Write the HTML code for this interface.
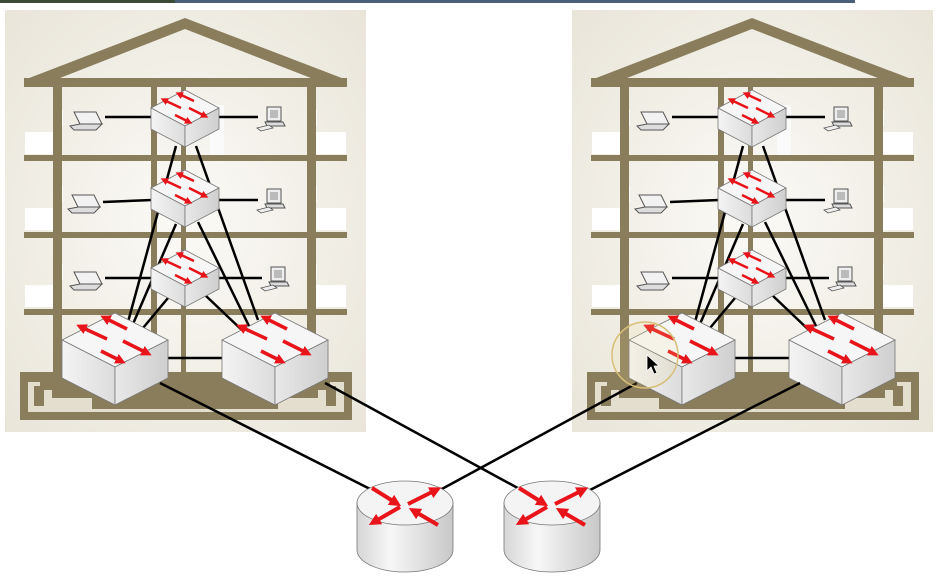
<!DOCTYPE html>
<html><head><meta charset="utf-8"><style>
html,body{margin:0;padding:0;background:#fff;}
svg{display:block;}
</style></head><body>
<svg width="939" height="577" viewBox="0 0 939 577" xmlns="http://www.w3.org/2000/svg" font-family="Liberation Sans, sans-serif">
<defs>
<linearGradient id="lf" x1="0" y1="0" x2="1" y2="0"><stop offset="0" stop-color="#f4f4f4"/><stop offset="1" stop-color="#dcdcdc"/></linearGradient>
<linearGradient id="rf" x1="0" y1="0" x2="1" y2="0"><stop offset="0" stop-color="#e8e8e8"/><stop offset="1" stop-color="#cfcfcf"/></linearGradient>
<linearGradient id="cyl" x1="0" y1="0" x2="1" y2="0"><stop offset="0" stop-color="#d6d6d6"/><stop offset="0.35" stop-color="#f7f7f7"/><stop offset="1" stop-color="#c8c8c8"/></linearGradient>
<radialGradient id="pan" cx="0.5" cy="0.5" r="0.7"><stop offset="0" stop-color="#fbfaf6"/><stop offset="1" stop-color="#e9e5d9"/></radialGradient>
<marker id="ah" viewBox="0 0 10 10" refX="5" refY="5" markerWidth="3" markerHeight="3" orient="auto"><path d="M0,0 L10,5 L0,10 z" fill="#e8141a"/></marker>

<g id="bigsw">
 <path d="M0,0 L53,27 L0,54 L-53,27 z" fill="#f6f6f6" stroke="#777" stroke-width="0.8"/>
 <path d="M-53,27 L0,54 L0,92 L-53,65 z" fill="url(#lf)" stroke="#777" stroke-width="0.8"/>
 <path d="M0,54 L53,27 L53,65 L0,92 z" fill="url(#rf)" stroke="#777" stroke-width="0.8"/>
 <g stroke="#e8141a" stroke-width="3.5" fill="none" marker-end="url(#ah)">
  <path d="M-8,26 L-34,14"/>
  <path d="M12,16 L-10,5"/>
  <path d="M-14,38 L6,48"/>
  <path d="M8,28 L32,40"/>
 </g>
</g>
<g id="smsw">
 <path d="M0,0 L34,18 L0,36 L-34,18 z" fill="#f6f6f6" stroke="#777" stroke-width="0.8"/>
 <path d="M-34,18 L0,36 L0,57 L-34,39 z" fill="url(#lf)" stroke="#777" stroke-width="0.8"/>
 <path d="M0,36 L34,18 L34,39 L0,57 z" fill="url(#rf)" stroke="#777" stroke-width="0.8"/>
 <g stroke="#e8141a" stroke-width="2.5" fill="none" marker-end="url(#ah)">
  <path d="M-4,18 L-21,10"/>
  <path d="M9,11 L-6,4"/>
  <path d="M-10,25 L4,32"/>
  <path d="M4,18 L20,26"/>
 </g>
</g>
<g id="laptop">
 <path d="M-14,-8 L8,-8 L14,4 L-8,4 z" fill="#f2f2f2" stroke="#555" stroke-width="1"/>
 <path d="M-18,6 L-8,4 L14,4 L8,10 L-14,10 z" fill="#ddd" stroke="#555" stroke-width="1"/>
</g>
<g id="pc">
 <rect x="-6" y="-13" width="14" height="14" fill="#eee" stroke="#555" stroke-width="1"/>
 <rect x="-3" y="-10" width="8" height="8" fill="#bbb"/>
 <path d="M-8,2 L10,2 L12,6 L-6,6 z" fill="#ddd" stroke="#555" stroke-width="1"/>
 <path d="M-16,8 L-4,5 L0,8 L-12,11 z" fill="#eee" stroke="#555" stroke-width="0.8"/>
</g>

<g id="bld">
 <rect x="5" y="10" width="361" height="422" fill="url(#pan)"/>
 <g fill="#ffffff">
  <rect x="25" y="132" width="30" height="22"/><rect x="316" y="132" width="30" height="22"/>
  <rect x="25" y="208" width="30" height="22"/><rect x="316" y="208" width="30" height="22"/>
  <rect x="25" y="285" width="30" height="22"/><rect x="316" y="285" width="30" height="22"/>
  <rect x="53" y="110" width="10" height="16"/><rect x="307" y="110" width="10" height="16"/>
  <rect x="53" y="186" width="10" height="16"/><rect x="307" y="186" width="10" height="16"/>
  <rect x="53" y="264" width="10" height="16"/><rect x="307" y="264" width="10" height="16"/>
  <rect x="210" y="105" width="14" height="50" fill="#fafafa"/>
 </g>
 <g fill="#8a7d5c">
  <path d="M24,80 L185,18 L347,80 L347,87 L334,87 L185,29 L37,87 L24,87 z"/>
  <rect x="24" y="78" width="323" height="9"/>
  <rect x="53" y="80" width="9" height="300"/>
  <rect x="307" y="80" width="9" height="300"/>
  <rect x="151" y="80" width="6" height="300"/>
  <rect x="181" y="80" width="5" height="300"/>
  <rect x="24" y="155" width="323" height="6"/>
  <rect x="24" y="232" width="323" height="6"/>
  <rect x="24" y="309" width="323" height="6"/>
  <path d="M20,372 L352,372 L352,420 L20,420 z"/>
 </g>
 <path d="M28,382 L40,382 L40,390 L52,390 L52,398 L92,398 L92,409 L278,409 L278,398 L318,398 L318,390 L330,390 L330,382 L344,382 L344,412 L28,412 z" fill="#e4dece"/>
 <rect x="34" y="386" width="10" height="20" fill="#8a7d5c"/>
 <rect x="326" y="386" width="10" height="20" fill="#8a7d5c"/>
 <rect x="182" y="372" width="5" height="30" fill="#8a7d5c"/>
 <g stroke="#000" stroke-width="2.5">
  <line x1="105" y1="117" x2="152" y2="117"/>
  <line x1="103" y1="202" x2="152" y2="200"/>
  <line x1="105" y1="278" x2="152" y2="278"/>
  <line x1="218" y1="117" x2="258" y2="117"/>
  <line x1="218" y1="200" x2="258" y2="200"/>
  <line x1="218" y1="278" x2="262" y2="278"/>
  <line x1="176" y1="146" x2="128" y2="322"/>
  <line x1="196" y1="146" x2="258" y2="320"/>
  <line x1="176" y1="224" x2="133" y2="324"/>
  <line x1="198" y1="222" x2="250" y2="328"/>
  <line x1="168" y1="298" x2="143" y2="328"/>
  <line x1="205" y1="295" x2="245" y2="333"/>
  <line x1="168" y1="358" x2="222" y2="358"/>
 </g>
 <use href="#laptop" x="88" y="120"/>
 <use href="#laptop" x="86" y="203"/>
 <use href="#laptop" x="88" y="280"/>
 <use href="#pc" x="273" y="120"/>
 <use href="#pc" x="273" y="202"/>
 <use href="#pc" x="277" y="280"/>
 <use href="#smsw" x="185" y="90"/>
 <use href="#smsw" x="185" y="170"/>
 <use href="#smsw" x="185" y="250"/>
 <use href="#bigsw" x="115" y="313"/>
 <use href="#bigsw" x="275" y="313"/>
</g>
</defs>

<rect x="0" y="0" width="855" height="3" fill="#3d4a35"/>
<rect x="175" y="0" width="680" height="3" fill="#4a6078"/>

<use href="#bld"/>
<use href="#bld" x="567"/>

<g stroke="#000" stroke-width="2.5">
 <line x1="160" y1="383" x2="380" y2="494"/>
 <line x1="325" y1="383" x2="525" y2="492"/>
 <line x1="637" y1="383" x2="440" y2="490"/>
 <line x1="800" y1="383" x2="590" y2="490"/>
</g>

<g id="rt">
 <path d="M357,503 L357,550 A48,22 0 0 0 453,550 L453,503 z" fill="url(#cyl)" stroke="#777" stroke-width="0.8"/>
 <ellipse cx="405" cy="503" rx="48" ry="22" fill="#f4f4f4" stroke="#777" stroke-width="0.8"/>
 <g stroke="#e8141a" stroke-width="4" fill="none" marker-end="url(#ah)">
  <path d="M372,488 L396,503"/>
  <path d="M408,504 L436,490"/>
  <path d="M400,507 L374,522"/>
  <path d="M438,525 L414,511"/>
 </g>
</g>
<use href="#rt" x="147"/>

<circle cx="645" cy="355" r="33" fill="rgba(240,220,150,0.15)" stroke="#d8bf78" stroke-width="1.5"/>
<path d="M647,355 L647,371 L651,367 L654,374 L657,373 L654,366 L659,366 z" fill="#000" stroke="#fff" stroke-width="0.8"/>
</svg>
</body></html>
